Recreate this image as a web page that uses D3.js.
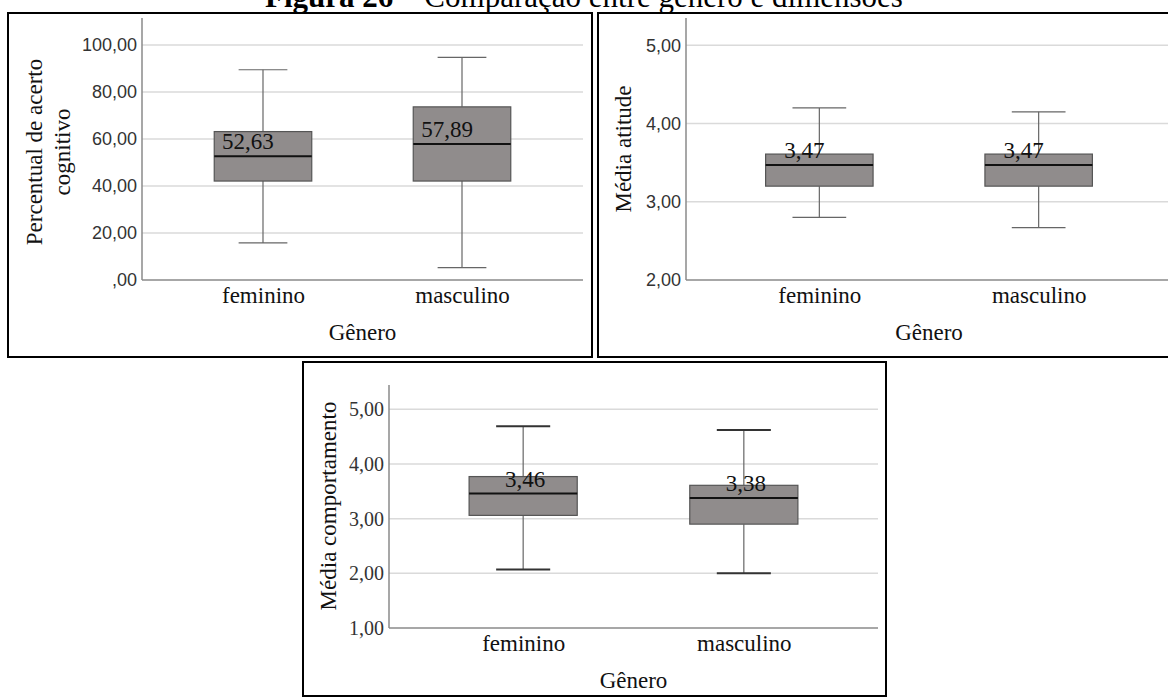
<!DOCTYPE html>
<html>
<head>
<meta charset="utf-8">
<script src="https://cdn.jsdelivr.net/npm/d3@7"></script>
<style>
  html, body { margin: 0; padding: 0; background: #fff; }
  svg { display: block; }
</style>
</head>
<body>
<svg id="fig" width="1168" height="698"></svg>
<script>
// Categories shared by the three box plots
const categories = ["feminino", "masculino"];

// Five-number summaries per gender: [min, q1, median, q3, max]
const cognitivoStats = [
  [15.79, 42.11, 52.63, 63.16, 89.47],
  [5.26, 42.11, 57.89, 73.68, 94.74]
];
const atitudeStats = [
  [2.80, 3.20, 3.47, 3.61, 4.20],
  [2.67, 3.20, 3.47, 3.61, 4.15]
];
const comportamentoStats = [
  [2.07, 3.06, 3.46, 3.77, 4.69],
  [2.00, 2.90, 3.38, 3.61, 4.62]
];

// Median labels printed on the boxes
const cognitivoLabels = ["52,63", "57,89"];
const atitudeLabels = ["3,47", "3,47"];
const comportamentoLabels = ["3,46", "3,38"];

// Y-axis ticks
const cognitivoTicks = [0, 20, 40, 60, 80, 100];
const cognitivoTickLabels = [",00", "20,00", "40,00", "60,00", "80,00", "100,00"];
const atitudeTicks = [2, 3, 4, 5];
const atitudeTickLabels = ["2,00", "3,00", "4,00", "5,00"];
const comportamentoTicks = [1, 2, 3, 4, 5];
const comportamentoTickLabels = ["1,00", "2,00", "3,00", "4,00", "5,00"];

const SERIF = "'Liberation Serif', 'Times New Roman', serif";
const SANS = "'Liberation Sans', Arial, sans-serif";

const svg = d3.select("#fig");

// Figure caption (top of the page, partially outside the view)
svg.append("text")
  .attr("x", 584).attr("y", 7)
  .attr("text-anchor", "middle")
  .attr("font-family", SERIF).attr("font-size", 31).attr("fill", "#000")
  .call(t => {
    t.append("tspan").attr("font-weight", "bold").text("Figura 26");
    t.append("tspan").text(" \u2013 Comparação entre gênero e dimensões");
  });

function drawPanel(cfg) {
  const g = svg.append("g");

  // outer frame
  g.append("rect")
    .attr("x", cfg.frame[0]).attr("y", cfg.frame[1])
    .attr("width", cfg.frame[2] - cfg.frame[0])
    .attr("height", cfg.frame[3] - cfg.frame[1])
    .attr("fill", "none").attr("stroke", "#000").attr("stroke-width", 2);

  const x = d3.scalePoint().domain(categories)
    .range([cfg.plot.left, cfg.plot.right]).padding(0.608);
  const y = d3.scaleLinear().domain(cfg.yDomain)
    .range([cfg.plot.bottom, cfg.plot.top]);

  // horizontal gridlines
  g.append("g").selectAll("line")
    .data(cfg.ticks.filter(v => v !== cfg.yDomain[0]))
    .join("line")
    .attr("x1", cfg.plot.left).attr("x2", cfg.plot.right)
    .attr("y1", d => y(d)).attr("y2", d => y(d))
    .attr("stroke", "#dadada").attr("stroke-width", 1.5);

  // y axis with custom tick labels
  const yAxis = d3.axisLeft(y)
    .tickValues(cfg.ticks)
    .tickFormat((d, i) => cfg.tickLabels[i])
    .tickSize(0).tickPadding(5);
  const ya = g.append("g")
    .attr("transform", `translate(${cfg.plot.left},0)`)
    .call(yAxis);
  ya.select(".domain").remove();
  ya.selectAll("text")
    .attr("font-family", cfg.tickFont).attr("font-size", cfg.tickSize)
    .attr("fill", "#333");
  g.append("line")
    .attr("x1", cfg.plot.left).attr("x2", cfg.plot.left)
    .attr("y1", cfg.plot.top).attr("y2", cfg.plot.bottom)
    .attr("stroke", "#8a8a8a").attr("stroke-width", 1.5);

  // x axis
  const xAxis = d3.axisBottom(x).tickSize(0).tickPadding(0);
  const xa = g.append("g")
    .attr("transform", `translate(0,${cfg.plot.bottom})`)
    .call(xAxis);
  xa.select(".domain").remove();
  xa.selectAll("text")
    .attr("font-family", SERIF).attr("font-size", 23).attr("fill", "#111")
    .attr("dy", null).attr("y", 23);
  g.append("line")
    .attr("x1", cfg.plot.left).attr("x2", cfg.plot.right)
    .attr("y1", cfg.plot.bottom).attr("y2", cfg.plot.bottom)
    .attr("stroke", "#8a8a8a").attr("stroke-width", 1.5);

  // x axis title
  g.append("text")
    .attr("x", (cfg.plot.left + cfg.plot.right) / 2)
    .attr("y", cfg.plot.bottom + 60)
    .attr("text-anchor", "middle")
    .attr("font-family", SERIF).attr("font-size", 23).attr("fill", "#111")
    .text("Gênero");

  // y axis title (one or two lines)
  cfg.yTitle.forEach((line, i) => {
    const cx = cfg.yTitleX[i], cy = cfg.yTitleY;
    g.append("text")
      .attr("transform", `translate(${cx},${cy}) rotate(-90)`)
      .attr("dy", "0.35em")
      .attr("text-anchor", "middle")
      .attr("font-family", SERIF).attr("font-size", 23).attr("fill", "#111")
      .text(line);
  });

  // box plots
  const bw = x.step() * 0.49;
  const boxes = g.append("g").selectAll("g")
    .data(cfg.stats.map((s, i) => ({ cat: categories[i], s, label: cfg.labels[i] })))
    .join("g");

  // whiskers
  boxes.append("line")
    .attr("x1", d => x(d.cat)).attr("x2", d => x(d.cat))
    .attr("y1", d => y(d.s[0])).attr("y2", d => y(d.s[1]))
    .attr("stroke", "#666").attr("stroke-width", 1.2);
  boxes.append("line")
    .attr("x1", d => x(d.cat)).attr("x2", d => x(d.cat))
    .attr("y1", d => y(d.s[3])).attr("y2", d => y(d.s[4]))
    .attr("stroke", "#666").attr("stroke-width", 1.2);
  // caps
  [0, 4].forEach(k => {
    boxes.append("line")
      .attr("x1", d => x(d.cat) - bw / 4).attr("x2", d => x(d.cat) + bw / 4)
      .attr("y1", d => y(d.s[k])).attr("y2", d => y(d.s[k]))
      .attr("stroke", cfg.capColor).attr("stroke-width", cfg.capWidth);
  });
  // box
  boxes.append("rect")
    .attr("x", d => x(d.cat) - bw / 2)
    .attr("y", d => y(d.s[3]))
    .attr("width", bw)
    .attr("height", d => y(d.s[1]) - y(d.s[3]))
    .attr("fill", "#908c8c").attr("stroke", "#555").attr("stroke-width", 1.2);
  // median
  boxes.append("line")
    .attr("x1", d => x(d.cat) - bw / 2).attr("x2", d => x(d.cat) + bw / 2)
    .attr("y1", d => y(d.s[2])).attr("y2", d => y(d.s[2]))
    .attr("stroke", "#111").attr("stroke-width", 2);
  // median value label
  boxes.append("text")
    .attr("x", d => x(d.cat) + cfg.labelDx)
    .attr("y", d => y(d.s[2]) - 7)
    .attr("text-anchor", "middle")
    .attr("font-family", SERIF).attr("font-size", 23).attr("fill", "#111")
    .text(d => d.label);
}

drawPanel({
  frame: [8, 13, 592, 357],
  plot: { left: 142, right: 583, top: 18, bottom: 280 },
  yDomain: [0, 111.5],
  ticks: cognitivoTicks, tickLabels: cognitivoTickLabels,
  tickFont: SANS, tickSize: 18,
  yTitle: ["Percentual de acerto", "cognitivo"], yTitleX: [34, 62], yTitleY: 152,
  stats: cognitivoStats, labels: cognitivoLabels, labelDx: -15,
  capColor: "#666", capWidth: 1.2
});

drawPanel({
  frame: [598, 13, 1181, 357],
  plot: { left: 686, right: 1172, top: 18, bottom: 280 },
  yDomain: [2, 5.35],
  ticks: atitudeTicks, tickLabels: atitudeTickLabels,
  tickFont: SANS, tickSize: 18,
  yTitle: ["Média atitude"], yTitleX: [623], yTitleY: 149,
  stats: atitudeStats, labels: atitudeLabels, labelDx: -15,
  capColor: "#666", capWidth: 1.2
});

drawPanel({
  frame: [303, 362, 886, 696],
  plot: { left: 389, right: 878, top: 385, bottom: 628 },
  yDomain: [1, 5.445],
  ticks: comportamentoTicks, tickLabels: comportamentoTickLabels,
  tickFont: SERIF, tickSize: 20,
  yTitle: ["Média comportamento"], yTitleX: [328], yTitleY: 506,
  stats: comportamentoStats, labels: comportamentoLabels, labelDx: 2,
  capColor: "#333", capWidth: 2
});
</script>
</body>
</html>
